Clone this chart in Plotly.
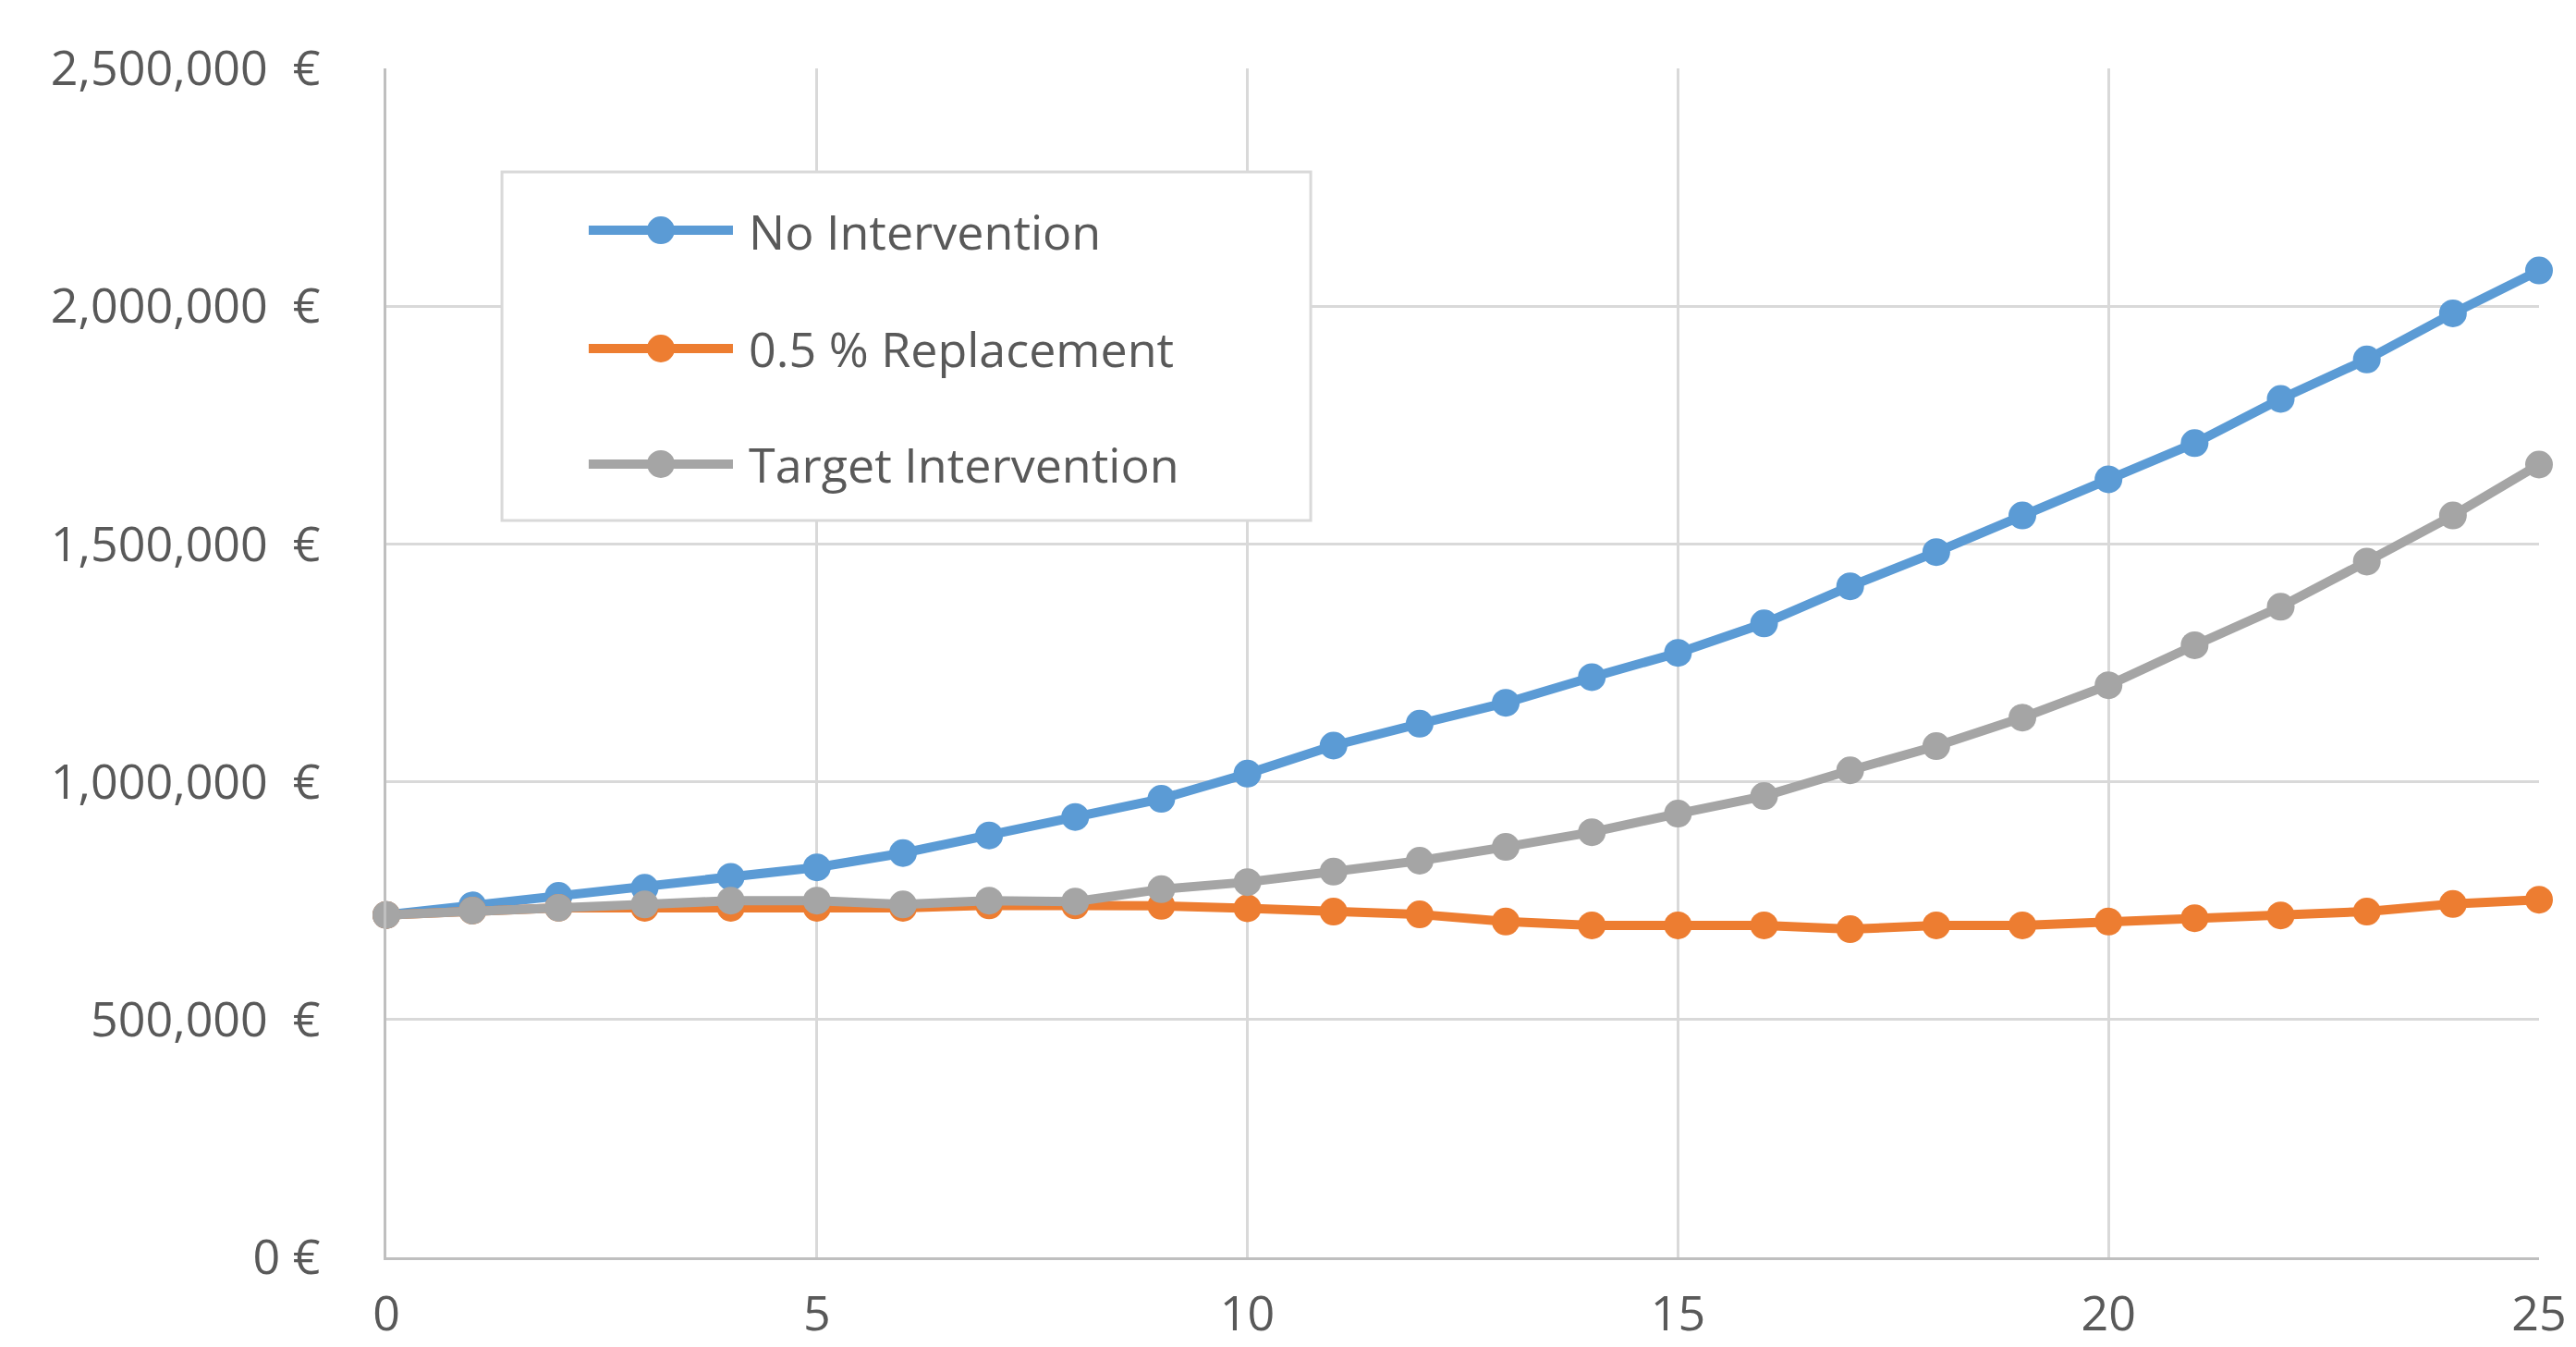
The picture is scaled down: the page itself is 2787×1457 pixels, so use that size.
import plotly.graph_objects as go

# Years since start
years = list(range(0, 26))

# Cumulative cost in euros per scenario
no_intervention = [
    720000, 740000, 760000, 777000, 800000, 820000, 850000, 887000, 926000, 964000,
    1017000, 1076000, 1122000, 1166000, 1220000, 1271000, 1333000, 1411000, 1483000,
    1560000, 1636000, 1712000, 1805000, 1888000, 1985000, 2075000,
]
replacement_05 = [
    720000, 729000, 735000, 735000, 735000, 735000, 735000, 740000, 740000, 739000,
    734000, 727000, 721000, 706000, 698000, 698000, 698000, 690000, 698000,
    698000, 706000, 713000, 719000, 727000, 743000, 752000,
]
target_intervention = [
    720000, 729000, 735000, 742000, 750000, 750000, 742000, 750000, 748000, 774000,
    789000, 811000, 834000, 863000, 894000, 933000, 970000, 1024000, 1075000,
    1135000, 1203000, 1287000, 1368000, 1463000, 1560000, 1667000,
]

series_names = ["No Intervention", "0.5 % Replacement", "Target Intervention"]
series_values = [no_intervention, replacement_05, target_intervention]
series_colors = ["#5B9BD5", "#ED7D31", "#A5A5A5"]

y_tick_values = [0, 500000, 1000000, 1500000, 2000000, 2500000]
y_tick_labels = [
    "0\u00a0€",
    "500,000\u00a0\u00a0€",
    "1,000,000\u00a0\u00a0€",
    "1,500,000\u00a0\u00a0€",
    "2,000,000\u00a0\u00a0€",
    "2,500,000\u00a0\u00a0€",
]
x_tick_values = [0, 5, 10, 15, 20, 25]

FONT = "Open Sans"
TEXT_COLOR = "#595959"
FONT_SIZE = 52

fig = go.Figure()
for name, vals, col in zip(series_names, series_values, series_colors):
    fig.add_trace(
        go.Scatter(
            x=years,
            y=vals,
            name=name,
            mode="lines+markers",
            line=dict(color=col, width=10),
            marker=dict(color=col, size=30),
            cliponaxis=False,
            showlegend=False,
        )
    )

# Boxed legend drawn in the upper-left part of the plot area
legend_box = dict(x0=0.0537, x1=0.4294, y0=0.6197, y1=0.9129)
fig.add_shape(
    type="rect", xref="paper", yref="paper",
    x0=legend_box["x0"], x1=legend_box["x1"], y0=legend_box["y0"], y1=legend_box["y1"],
    line=dict(color="#D9D9D9", width=3), fillcolor="white", layer="above",
)
row_y = [0.8639, 0.7644, 0.6672]
for name, col, yy in zip(series_names, series_colors, row_y):
    fig.add_shape(
        type="line", xref="paper", yref="paper",
        x0=0.0940, x1=0.1610, y0=yy, y1=yy,
        line=dict(color=col, width=10), layer="above",
    )
    fig.add_shape(
        type="circle", xref="paper", yref="paper",
        xsizemode="pixel", ysizemode="pixel",
        xanchor=0.1275, yanchor=yy, x0=-15, x1=15, y0=-15, y1=15,
        line=dict(width=0), fillcolor=col, layer="above",
    )
    fig.add_annotation(
        x=0.1675, y=yy, xref="paper", yref="paper",
        text=name, showarrow=False, xanchor="left", yanchor="middle",
        font=dict(family=FONT, size=FONT_SIZE, color=TEXT_COLOR),
    )

fig.update_layout(
    width=2787,
    height=1457,
    template="none",
    paper_bgcolor="white",
    plot_bgcolor="white",
    margin=dict(l=418, r=40, t=74, b=97, autoexpand=False),
    font=dict(family=FONT, size=FONT_SIZE, color=TEXT_COLOR),
    showlegend=False,
)
fig.update_xaxes(
    range=[0, 25],
    tickvals=x_tick_values,
    showgrid=True, gridcolor="#D9D9D9", gridwidth=3,
    showline=True, linecolor="#BFBFBF", linewidth=3,
    zeroline=False, ticks="", ticklabelstandoff=14,
    tickfont=dict(family=FONT, size=FONT_SIZE, color=TEXT_COLOR),
    automargin=False,
)
fig.update_yaxes(
    range=[0, 2500000],
    tickvals=y_tick_values, ticktext=y_tick_labels,
    showgrid=True, gridcolor="#D9D9D9", gridwidth=3,
    showline=True, linecolor="#BFBFBF", linewidth=3,
    zeroline=False, ticks="", ticklabelstandoff=58,
    tickfont=dict(family=FONT, size=FONT_SIZE, color=TEXT_COLOR),
    automargin=False,
)

fig.write_html("out.html")
